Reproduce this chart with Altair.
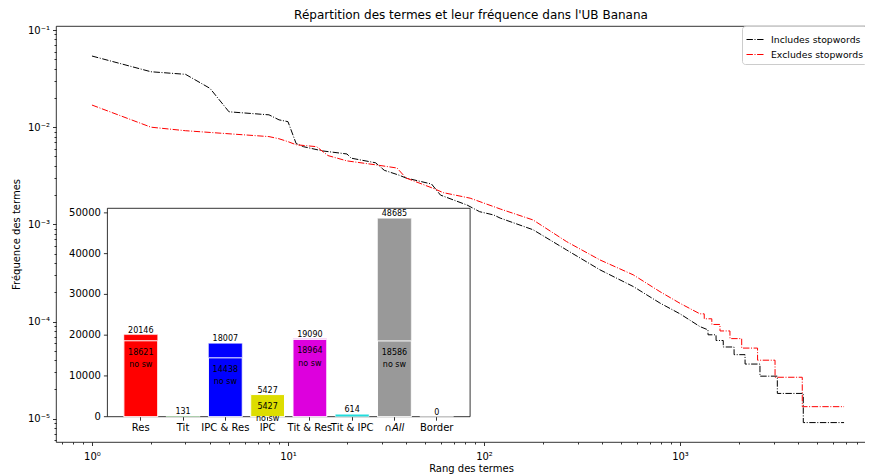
import altair as alt
import pandas as pd

# ---------------- data ----------------
black_rank = [1, 2, 3, 4, 5, 8, 9, 10, 11, 12, 15, 20, 21, 28, 31, 37, 40, 54, 60, 82, 95, 112, 121,
              178, 264, 391, 578, 790, 1000, 1264, 1389, 1390, 1527, 1528, 1662, 1663, 1887, 1888,
              2147, 2148, 2558, 2559, 3137, 3138, 4255, 4256, 6870]
black_freq = [0.054, 0.0372, 0.035, 0.0251, 0.0144, 0.0134, 0.0119, 0.0114, 0.0068, 0.0063, 0.0057,
              0.0053, 0.0048, 0.0043, 0.0036, 0.0032, 0.0030, 0.0026, 0.0020, 0.00158, 0.00135,
              0.00125, 0.00116, 0.00088, 0.000545, 0.00034, 0.000229, 0.000155, 0.00012, 0.0000887,
              0.0000821, 0.0000730, 0.0000730, 0.0000638, 0.0000638, 0.0000547, 0.0000547,
              0.0000456, 0.0000456, 0.0000365, 0.0000365, 0.0000274, 0.0000274, 0.0000182,
              0.0000182, 0.00000912, 0.00000912]

red_rank = [1, 2, 3, 8, 9, 10, 11, 14, 16, 20, 28, 36, 40, 55, 62, 85, 121, 178, 264, 391, 578,
            790, 1000, 1264, 1329, 1330, 1453, 1454, 1599, 1600, 1798, 1799, 2064, 2065, 2487,
            2488, 3054, 3055, 4205, 4206, 6870]
red_freq = [0.0169, 0.0100, 0.0092, 0.0080, 0.0076, 0.0071, 0.0066, 0.0063, 0.0051, 0.0045, 0.0041,
            0.0038, 0.0030, 0.00235, 0.00212, 0.00186, 0.00144, 0.00111, 0.000664, 0.00043,
            0.000302, 0.000203, 0.000154, 0.000120, 0.000120, 0.0001067, 0.0001067, 0.0000933,
            0.0000933, 0.0000800, 0.0000800, 0.0000667, 0.0000667, 0.0000533, 0.0000533,
            0.0000400, 0.0000400, 0.0000267, 0.0000267, 0.0000133, 0.0000133]

series_names = ["Includes stopwords", "Excludes stopwords"]
series_colors = ["#000000", "#ff0000"]

categories = ["Res", "Tit", "IPC & Res", "IPC", "Tit & Res", "Tit & IPC", "∩All", "Border"]
totals = [20146, 131, 18007, 5427, 19090, 614, 48685, 0]
no_sw = [18621, None, 14438, 5427, 18964, None, 18586, None]
bar_colors = ["#ff0000", "#00aa00", "#0000ff", "#dddd00", "#dd00dd", "#22dddd", "#999999", "#ff8800"]

inset_y_ticks = [0, 10000, 20000, 30000, 40000, 50000]

# ---------------- layout ----------------
W, H = 830, 416
X_DOM = [0.6553, 11246]
Y_DOM = [5.757e-6, 0.11]
IX0, IX1 = 51.4, 414.1       # inset left/right (plot px)
IY0, IY1 = 390.7, 182.3      # inset bottom/top (plot px)
INSET_YMAX = 51119
FONT = "DejaVu Sans"
DASH = [6.4, 1.6, 1.0, 1.6]

lines_df = pd.concat([
    pd.DataFrame({"rank": black_rank, "freq": black_freq, "series": series_names[0]}),
    pd.DataFrame({"rank": red_rank, "freq": red_freq, "series": series_names[1]}),
], ignore_index=True)

bar_df = pd.DataFrame({"cat": categories, "total": totals, "nosw": no_sw, "color": bar_colors})
ytick_df = pd.DataFrame({"v": inset_y_ticks})


def log_ticks(lo_exp, hi_exp):
    vals = []
    for e in range(lo_exp, hi_exp + 1):
        for m in range(1, 10):
            vals.append(float(f"{m}e{e}"))
    return vals


x_vals = [v for v in log_ticks(-1, 4) if X_DOM[0] <= v <= X_DOM[1]]
y_vals = [v for v in log_ticks(-6, -1) if Y_DOM[0] <= v <= Y_DOM[1]]

SUP = {"-": "⁻", "0": "⁰", "1": "¹", "2": "²", "3": "³", "4": "⁴",
       "5": "⁵", "6": "⁶", "7": "⁷", "8": "⁸", "9": "⁹"}
E = "round(log(datum.value)/LN10)"
IS_MAJOR = f"abs(log(datum.value)/LN10 - {E}) < 0.001"


def pow_label_expr():
    expr = "''"
    for e in range(-7, 6):
        lab = "10" + "".join(SUP[c] for c in str(e))
        expr = f"({E} == {e} ? '{lab}' : {expr})"
    return f"{IS_MAJOR} ? {expr} : ''"


tick_size = {"condition": {"test": IS_MAJOR, "value": 3.5}, "value": 2}

main = alt.Chart(lines_df).mark_line(strokeWidth=1, strokeDash=DASH, clip=True).encode(
    x=alt.X("rank:Q",
            scale=alt.Scale(type="log", domain=X_DOM, nice=False),
            axis=alt.Axis(values=x_vals, labelExpr=pow_label_expr(), tickSize=tick_size,
                          domain=False, grid=False, labelPadding=6, labelFontSize=10,
                          labelOverlap=False, labelFlush=False, title="Rang des termes",
                          titleFontSize=10, titleFontWeight="normal", titlePadding=2)),
    y=alt.Y("freq:Q",
            scale=alt.Scale(type="log", domain=Y_DOM, nice=False),
            axis=alt.Axis(values=y_vals, labelExpr=pow_label_expr(), tickSize=tick_size,
                          domain=False, grid=False, labelPadding=3, labelFontSize=10,
                          labelOverlap=False, labelFlush=False, title="Fréquence des termes",
                          titleFontSize=10, titleFontWeight="normal", titlePadding=6)),
    color=alt.Color("series:N", sort=series_names,
                    scale=alt.Scale(domain=series_names, range=series_colors),
                    legend=alt.Legend(title=None, orient="none", legendX=686, legendY=0,
                                      symbolType="stroke", symbolSize=324, symbolStrokeWidth=1,
                                      symbolDash=DASH, labelFontSize=9.3, labelFont=FONT,
                                      labelColor="black", padding=4, strokeColor="#cccccc",
                                      fillColor="rgba(255,255,255,0.8)", cornerRadius=3,
                                      rowPadding=-4.7, labelOffset=6, labelLimit=0)),
)

xb = alt.X("cat:N", sort=categories,
           scale=alt.Scale(domain=categories, range=[IX0, IX1], paddingInner=0.2, paddingOuter=0.39),
           axis=alt.Axis(orient="bottom", offset=-(H - IY0), title=None, labelAngle=0, domain=False,
                         tickSize=3.5, labelPadding=2, bandPosition=0.5, labelOverlap=False,
                         labelFontSize=10, labelBound=False, zindex=1,
                         labelFontStyle={"condition": {"test": "datum.value == '∩All'", "value": "italic"},
                                         "value": "normal"}))
yscale = alt.Scale(domain=[0, INSET_YMAX], range=[IY0, IY1], nice=False, zero=True)

frame = alt.Chart(alt.Data(values=[{}])).mark_rect(fill="white", stroke="black", strokeWidth=0.8).encode(
    x=alt.value(IX0), x2=alt.value(IX1), y=alt.value(IY1), y2=alt.value(IY0))

bars = alt.Chart(bar_df).mark_bar(stroke="white", strokeOpacity=0.5, strokeWidth=1).encode(
    x=xb, y=alt.Y("total:Q", scale=yscale, axis=None), color=alt.Color("color:N", scale=None))

nosw_bars = alt.Chart(bar_df).transform_filter("isValid(datum.nosw)").mark_bar(
    stroke="white", strokeWidth=1).encode(
    x=xb, y=alt.Y("nosw:Q", scale=yscale, axis=None), color=alt.Color("color:N", scale=None))

top_text = alt.Chart(bar_df).mark_text(baseline="alphabetic", dy=-2, fontSize=8, font=FONT,
                                       color="black").encode(
    x=xb, y=alt.Y("total:Q", scale=yscale, axis=None), text=alt.Text("total:Q", format="d"))

inner_val = alt.Chart(bar_df).transform_filter("isValid(datum.nosw)").mark_text(
    baseline="middle", dy=12, fontSize=8, font=FONT, color="black").encode(
    x=xb, y=alt.Y("nosw:Q", scale=yscale, axis=None), text=alt.Text("nosw:Q", format="d"))

inner_lab = alt.Chart(bar_df).transform_filter("isValid(datum.nosw)").mark_text(
    baseline="middle", dy=24.3, fontSize=8, font=FONT, color="black").encode(
    x=xb, y=alt.Y("nosw:Q", scale=yscale, axis=None), text=alt.value("no sw"))

# inset y axis (ticks + labels) drawn through the inset y scale
ytick_marks = alt.Chart(ytick_df).mark_rule(color="black", strokeWidth=0.8).encode(
    x=alt.value(IX0 - 3.5), x2=alt.value(IX0), y=alt.Y("v:Q", scale=yscale, axis=None))
ytick_labels = alt.Chart(ytick_df).mark_text(align="right", baseline="middle", fontSize=10,
                                             font=FONT, color="black").encode(
    x=alt.value(IX0 - 6.5), y=alt.Y("v:Q", scale=yscale, axis=None), text=alt.Text("v:Q", format="d"))

inset = alt.layer(frame, bars, nosw_bars, top_text, inner_val, inner_lab, ytick_marks, ytick_labels)

chart = alt.layer(main, inset).resolve_scale(
    x="independent", y="independent", color="independent"
).properties(
    width=W, height=H,
    title=alt.Title("Répartition des termes et leur fréquence dans l'UB Banana",
                    fontSize=12, font=FONT, fontWeight="normal", color="black",
                    anchor="middle", offset=3),
    autosize=alt.AutoSizeParams(type="none"),
    padding={"left": 48, "top": 18, "right": -21, "bottom": 32},
).configure(font=FONT).configure_view(
    stroke="black", strokeWidth=0.8
).configure_axis(
    labelColor="black", tickColor="black", titleColor="black", labelFont=FONT, titleFont=FONT,
    tickWidth=0.8,
)

chart.save("out.html", embed_options={"renderer": "svg", "actions": False})
